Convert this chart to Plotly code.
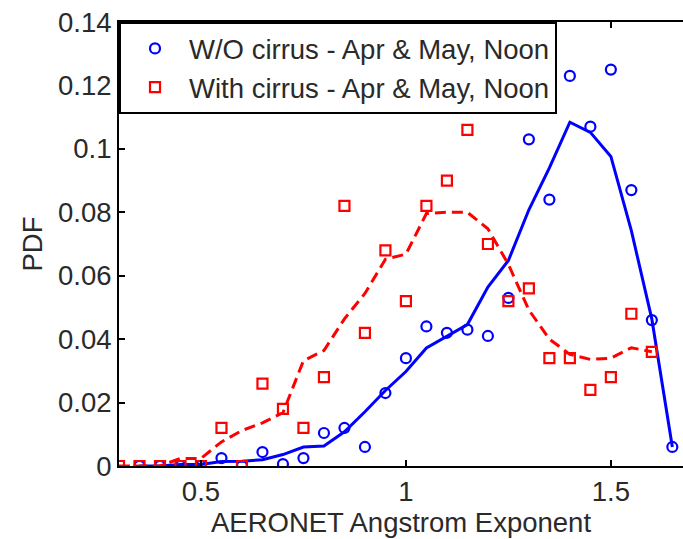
import plotly.graph_objects as go

# Angstrom exponent bins
x_clear = [0.35, 0.40, 0.45, 0.50, 0.55, 0.60, 0.65, 0.70, 0.75, 0.80, 0.85, 0.90, 0.95,
           1.00, 1.05, 1.10, 1.15, 1.20, 1.25, 1.30, 1.35, 1.40, 1.45, 1.50, 1.55, 1.60, 1.65]
x_cirrus = [0.30, 0.35, 0.40, 0.45, 0.50, 0.55, 0.60, 0.65, 0.70, 0.75, 0.80, 0.85, 0.90, 0.95,
            1.00, 1.05, 1.10, 1.15, 1.20, 1.25, 1.30, 1.35, 1.40, 1.45, 1.50, 1.55, 1.60]

# PDF per bin (markers)
pdf_clear = [0, 0, 0, 0, 0.0025, 0, 0.0044, 0.0006, 0.0025, 0.0104, 0.012, 0.006, 0.023,
             0.034, 0.044, 0.042, 0.043, 0.041, 0.053, 0.103, 0.084, 0.123, 0.107, 0.125,
             0.087, 0.046, 0.006]
pdf_cirrus = [0, 0, 0, 0, 0, 0.012, 0, 0.026, 0.018, 0.012, 0.028, 0.082, 0.042, 0.068,
              0.052, 0.082, 0.090, 0.106, 0.070, 0.052, 0.056, 0.034, 0.034, 0.024, 0.028,
              0.048, 0.036]

# Smoothed PDF curves
smooth_clear = [0, 0, 0.0005, 0.0005, 0.0014, 0.0015, 0.0020, 0.0036, 0.0060, 0.0063,
                0.0108, 0.0171, 0.0238, 0.0298, 0.0372, 0.0408, 0.0446, 0.0564, 0.0648,
                0.0808, 0.0940, 0.1084, 0.1052, 0.0976, 0.0742, 0.0463, 0.006]
smooth_cirrus = [0, 0, 0, 0.0024, 0.0024, 0.0076, 0.0112, 0.0136, 0.0168, 0.0332, 0.0364,
                 0.0464, 0.0544, 0.0652, 0.0668, 0.0796, 0.0800, 0.0800, 0.0748, 0.0636,
                 0.0492, 0.0400, 0.0352, 0.0336, 0.0340, 0.0373, 0.036]

y_ticks = [0, 0.02, 0.04, 0.06, 0.08, 0.1, 0.12, 0.14]
y_tick_text = ["0", "0.02", "0.04", "0.06", "0.08", "0.1", "0.12", "0.14"]
x_ticks = [0.5, 1.0, 1.5]
x_tick_text = ["0.5", "1", "1.5"]

label_clear = "W/O cirrus - Apr & May, Noon"
label_cirrus = "With cirrus - Apr & May, Noon"

BLUE = "#0000ff"
RED = "#ff0000"
FONT = "Liberation Sans, Arial, Helvetica, sans-serif"
TEXT = "#2a2a2a"
FS = 27.5

fig = go.Figure()

fig.add_trace(go.Scatter(x=x_clear, y=smooth_clear, mode="lines",
                         line=dict(color=BLUE, width=3), showlegend=False,
                         hoverinfo="skip"))
fig.add_trace(go.Scatter(x=x_cirrus, y=smooth_cirrus, mode="lines",
                         line=dict(color=RED, width=3, dash="11px,6px"),
                         showlegend=False, hoverinfo="skip"))
fig.add_trace(go.Scatter(x=x_clear, y=pdf_clear, mode="markers", name=label_clear,
                         marker=dict(symbol="circle-open", size=10, color=BLUE,
                                     line=dict(width=2.2, color=BLUE))))
fig.add_trace(go.Scatter(x=x_cirrus, y=pdf_cirrus, mode="markers", name=label_cirrus,
                         marker=dict(symbol="square-open", size=10, color=RED,
                                     line=dict(width=2.2, color=RED))))

fig.update_layout(
    width=683, height=539,
    margin=dict(l=119, r=0, t=22, b=73),
    paper_bgcolor="white", plot_bgcolor="white",
    font=dict(family=FONT, size=FS, color=TEXT),
    showlegend=True,
    legend=dict(x=0, y=1, xanchor="left", yanchor="top",
                bgcolor="white", bordercolor="black", borderwidth=2,
                font=dict(family=FONT, size=FS, color=TEXT),
                itemwidth=58, tracegroupgap=0),
    xaxis=dict(range=[0.3, 1.676], tickvals=x_ticks, ticktext=x_tick_text,
               ticks="inside", ticklen=6, tickwidth=1.5, tickcolor="black",
               showline=True, linecolor="black", linewidth=2, mirror="ticks",
               showgrid=False, zeroline=False,
               title=dict(text="AERONET Angstrom Exponent", standoff=7,
                          font=dict(size=FS, color=TEXT))),
    yaxis=dict(range=[0, 0.14], tickvals=y_ticks, ticktext=y_tick_text,
               ticks="inside", ticklen=6, tickwidth=1.5, tickcolor="black",
               showline=True, linecolor="black", linewidth=2, mirror=False,
               showgrid=False, zeroline=False,
               title=dict(text="PDF", standoff=7, font=dict(size=FS, color=TEXT))),
)

fig.write_html("out.html")
